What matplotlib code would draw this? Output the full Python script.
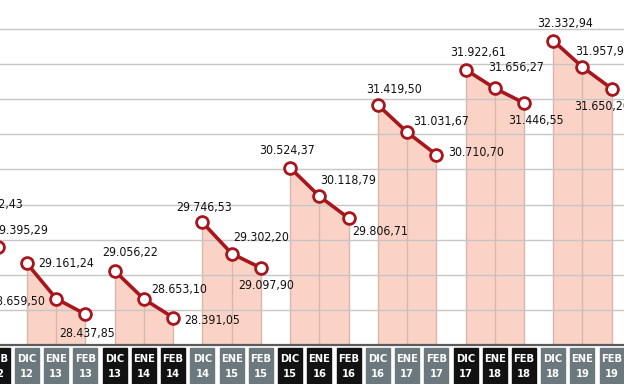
import os
import numpy as np
import matplotlib
matplotlib.use("Agg")
import matplotlib.pyplot as plt
from matplotlib import font_manager as fm
from matplotlib.patches import Rectangle

# ---------------- data ----------------
months = ["ENE", "FEB",
          "DIC", "ENE", "FEB", "DIC", "ENE", "FEB", "DIC", "ENE", "FEB",
          "DIC", "ENE", "FEB", "DIC", "ENE", "FEB", "DIC", "ENE", "FEB",
          "DIC", "ENE", "FEB"]
years = ["12", "12",
         "12", "13", "13", "13", "14", "14", "14", "15", "15",
         "15", "16", "16", "16", "17", "17", "17", "18", "18",
         "18", "19", "19"]
values = [29752.43, 29395.29,
          29161.24, 28659.50, 28437.85,
          29056.22, 28653.10, 28391.05,
          29746.53, 29302.20, 29097.90,
          30524.37, 30118.79, 29806.71,
          31419.50, 31031.67, 30710.70,
          31922.61, 31656.27, 31446.55,
          32332.94, 31957.95, 31650.20]
groups = [-1, -1,
          0, 0, 0, 1, 1, 1, 2, 2, 2,
          3, 3, 3, 4, 4, 4, 5, 5, 5,
          6, 6, 6]

# ---------------- layout / style ----------------
# label offsets in pixels (dx, dy up) and horizontal alignment
label_pos = [(27, 17, "center"), (22, 17, "center"),
             (11, 0, "left"), (-11, -3, "right"), (2, -19, "center"),
             (15, 18, "center"), (7, 10, "left"), (11, -3, "left"),
             (2, 15, "center"), (2, 16, "left"), (5, -18, "center"),
             (-3, 17, "center"), (1, 16, "left"), (4, -13, "left"),
             (16, 15, "center"), (6, 11, "left"), (12, 2, "left"),
             (13, 17, "center"), (-7, 21, "left"), (12, -18, "center"),
             (12, 17, "center"), (-7, 16, "left"), (-10, -18, "center")]


def find_font(cands):
    files = {os.path.basename(f.fname).lower(): f.fname for f in fm.fontManager.ttflist}
    for c in cands:
        if c.lower() in files:
            return c.lower(), files[c.lower()]
    return None, None


reg_name, reg_file = find_font(["LiberationSansNarrow-Regular.ttf", "NotoSans-Condensed.ttf",
                                "NotoSans-SemiCondensed.ttf", "DejaVuSansCondensed.ttf"])
bold_name, bold_file = find_font(["LiberationSansNarrow-Bold.ttf", "NotoSans-CondensedBold.ttf",
                                  "NotoSans-SemiCondensedBold.ttf", "DejaVuSansCondensed-Bold.ttf"])
if reg_file:
    size = 8.8 if "dejavu" in reg_name else 10
    FP_LABEL = fm.FontProperties(fname=reg_file, size=size)
else:
    FP_LABEL = fm.FontProperties(family="Roboto", size=8.2)
if bold_file:
    size = 8.0 if "dejavu" in bold_name else 8.5
    FP_BOX = fm.FontProperties(fname=bold_file, size=size)
else:
    FP_BOX = fm.FontProperties(family="Roboto", weight="bold", size=7.6)

RED = "#a8161d"
PINK = "#fad3c6"
SEP = "#d9b6aa"
GRID = "#c6c6c6"
GREY_BOX = "#6b787d"
BLACK_BOX = "#121212"


def fmt(v):
    s = f"{v:,.2f}"
    return s.replace(",", "X").replace(".", ",").replace("X", ".")


W, H = 624, 384
fig = plt.figure(figsize=(W / 100, H / 100), dpi=100)
ax = fig.add_axes([0, 39 / H, 1, 345 / H])
ax.set_axis_off()

x = np.arange(len(values))
vals = np.array(values)
step = 29.235
x0 = 2 - 27 / step
ax.set_xlim(x0, x0 + W / step)
ymin = 28000
ymax = 32500 + 29 / 35.1 * 500
ax.set_ylim(ymin, ymax)

# gridlines
for g in np.arange(28500, 33000, 500):
    ax.axhline(g, color=GRID, lw=1.0, zorder=2)

# fills, separators and lines by group
for gid in sorted(set(groups)):
    idx = [i for i, g in enumerate(groups) if g == gid]
    gx, gy = x[idx], vals[idx]
    ax.fill_between(gx, gy, ymin, color=PINK, lw=0, zorder=1)
    ax.vlines(gx, ymin, gy, color=SEP, lw=1.0, zorder=1.5)
    ax.plot(gx, gy, color=RED, lw=2.6, marker="o", ms=8.5,
            mfc="white", mec=RED, mew=2.0, zorder=4, solid_capstyle="round")

# baseline
ax.axhline(ymin, color="#5a5a5a", lw=1.6, zorder=3, clip_on=False)

# value labels
for xi, v, (dx, dy, ha) in zip(x, vals, label_pos):
    ax.annotate(fmt(v), (xi, v), xytext=(dx, dy), textcoords="offset pixels",
                ha=ha, va="center", color="#111111", annotation_clip=False,
                fontproperties=FP_LABEL, zorder=5)

# tick boxes
tr = ax.get_xaxis_transform()
bw = 24 / step
for xi, m, yv, gid in zip(x, months, years, groups):
    col = GREY_BOX if gid % 2 == 0 else BLACK_BOX
    ax.add_patch(Rectangle((xi - bw / 2, -40 / 345), bw, 37 / 345,
                           transform=tr, color=col, clip_on=False, zorder=5))
    ax.text(xi, -14 / 345, m, transform=tr, ha="center", va="center",
            color="white", fontproperties=FP_BOX, zorder=6)
    ax.text(xi, -29 / 345, yv, transform=tr, ha="center", va="center",
            color="white", fontproperties=FP_BOX, zorder=6)

fig.savefig("out.png", dpi=100)
